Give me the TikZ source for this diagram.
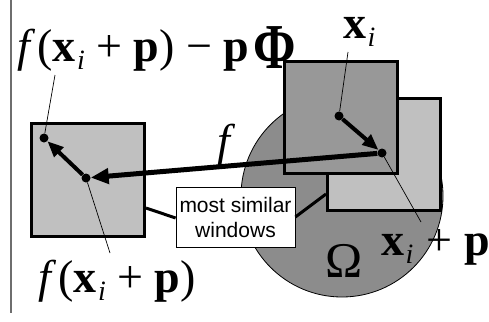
\documentclass[tikz,border=0pt]{standalone}
\usepackage{fontspec}
\setmainfont{Liberation Serif}
\newfontfamily\labelsans{Liberation Sans}
\usetikzlibrary{arrows.meta}
\definecolor{circgray}{RGB}{140,140,140}
\definecolor{darkwin}{RGB}{152,152,152}
\definecolor{lightwin}{RGB}{192,192,192}
\definecolor{rulegray}{RGB}{110,110,110}
\newcommand{\bxi}{\textbf{x}\kern1.5pt\raisebox{-8pt}{\fontsize{28}{28}\selectfont\textit{i}}}
\newcommand{\bp}{\textbf{p}}
\begin{document}
\begin{tikzpicture}[x=1pt,y=-1pt,
  window/.style={draw=black,line width=3pt},
  dot/.style={circle,fill=black,inner sep=0pt,minimum size=9pt},
  leader/.style={line width=0.7pt},
  fatarrow/.style={line width=4pt,-{Triangle[length=16pt,width=13pt]}},
  bigarrow/.style={line width=5pt,-{Triangle[length=18pt,width=15pt]}},
  tie/.style={line width=3pt},
  mathlbl/.style={font=\fontsize{46}{46}\selectfont,inner sep=0pt,anchor=base west},
  simbox/.style={draw=black,fill=white,line width=0.8pt,minimum width=119pt,minimum height=60pt,inner sep=0pt,align=center,font=\labelsans\fontsize{21}{25}\selectfont}
]
\useasboundingbox (0,0) rectangle (489,321);
% left rule
\draw[rulegray,line width=2pt] (11,0) -- (11,313);
% domain circle
\node[circle,draw=black,fill=circgray,line width=0.8pt,minimum size=202pt,inner sep=0pt] (omega) at (342,196) {};
% windows
\node[window,fill=lightwin,anchor=north west,minimum width=113pt,minimum height=113pt,inner sep=0pt] (wleft) at (30,122) {};
\node[window,fill=lightwin,anchor=north west,minimum width=113pt,minimum height=112pt,inner sep=0pt] (wback) at (326,97) {};
\node[window,fill=darkwin,anchor=north west,minimum width=113pt,minimum height=112pt,inner sep=0pt] (wfront) at (283,60) {};
% dots
\node[dot] (xi) at (339,116) {};
\node[dot] (xip) at (382,153) {};
\node[dot] (fxip) at (86,178) {};
\node[dot] (fxipp) at (44,138) {};
% labels
\node[mathlbl] (lblA) at (17,61) {\textit{f}\kern2pt(\bxi\ + \bp) − \bp\kern4pt\raisebox{-7pt}{\scalebox{0.8}[1]{\fontsize{64}{64}\selectfont\textbf{Φ}}}};
\node[mathlbl] (lblX) at (343,38) {\bxi};
\node[mathlbl] (lblB) at (38,292) {\textit{f}\kern2pt(\bxi\ + \bp)};
\node[mathlbl] (lblC) at (381,255) {\bxi\kern2pt\ + \bp};
\node[mathlbl,font=\fontsize{50}{50}\selectfont] (lblO) at (325,277) {Ω};
\node[mathlbl] (lblF) at (217,156) {\textit{f}};
\coordinate (lA) at (55,75);
\coordinate (lX) at (348,52);
\coordinate (lB) at (110,253);
\coordinate (lC) at (421,222);
% leader lines
\draw[leader] (lA) -- (fxipp);
\draw[leader] (lX) -- (xi);
\draw[leader] (lB) -- (fxip);
\draw[leader] (lC) -- (xip);
% arrows
\draw[fatarrow] (xi) -- (xip);
\draw[fatarrow] (fxip) -- (fxipp);
\draw[bigarrow] (xip) -- (fxip);
% box
\node[simbox] (sim) at (235.5,217) {most similar\\windows};
\draw[tie] (sim.west) ++(0,1) -- (wleft.east |- 0,208);
\draw[tie] (sim.east) -- (wback.west |- 0,194);
\end{tikzpicture}
\end{document}
